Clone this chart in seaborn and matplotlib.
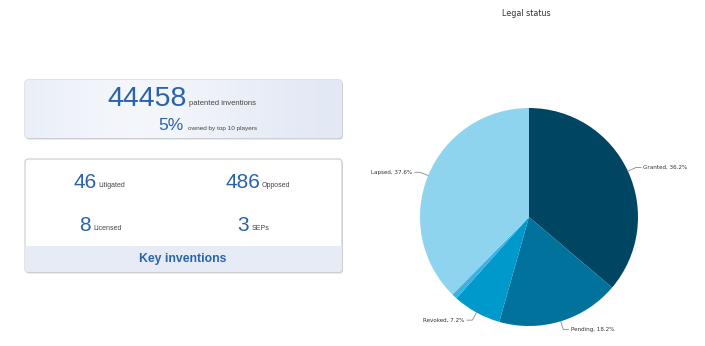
import numpy as np
import matplotlib
matplotlib.use("Agg")
import matplotlib.pyplot as plt
import seaborn as sns
from matplotlib.patches import FancyBboxPatch, Rectangle

sns.set_theme(style="white")
plt.rcParams['font.family'] = ['DejaVu Sans']

# ---- data ----
status = ["Granted", "Pending", "Revoked", "Other", "Lapsed"]
shares = [36.2, 18.2, 7.2, 0.8, 37.6]
colors = ["#004662", "#00729c", "#0099cc", "#3cb0e0", "#8fd4ef"]
show_label = [True, True, True, False, True]

total_inventions = "44458"
top10_share = "5%"
key_values = ["46", "486", "8", "3"]
key_names = ["Litigated", "Opposed", "Licensed", "SEPs"]

W, H = 705, 346
fig = plt.figure(figsize=(W / 100, H / 100), dpi=100)
fig.patch.set_facecolor("white")

# overlay axes in pixel coordinates for the cards
ov = fig.add_axes([0, 0, 1, 1])
ov.set_xlim(0, W)
ov.set_ylim(H, 0)
ov.axis("off")

blue = "#2b62ac"
grey_txt = "#444444"
cardfont = "Liberation Sans"

def card(x0, y0, x1, y1, fc):
    sh = FancyBboxPatch((x0 + 1, y0 + 1.5), x1 - x0, y1 - y0,
                        boxstyle="round,pad=0,rounding_size=3",
                        fc="#d2d4d8", ec="none", zorder=1)
    ov.add_patch(sh)
    b = FancyBboxPatch((x0, y0), x1 - x0, y1 - y0,
                       boxstyle="round,pad=0,rounding_size=3",
                       fc=fc, ec="#c9ccd2", lw=0.8, zorder=2)
    ov.add_patch(b)
    return b

# card 1 with soft gradient
b1 = card(25, 80, 342, 138, "#eaeef7")
grad = np.linspace(0, 1, 256)
g = np.exp(-((grad - 0.35) ** 2) / 0.15)
c0 = np.array([0.886, 0.910, 0.957])
c1 = np.array([0.955, 0.965, 0.985])
img = c0[None, None, :] * (1 - g[None, :, None]) + c1[None, None, :] * g[None, :, None]
im = ov.imshow(img, extent=(25, 342, 138, 80), aspect="auto", zorder=2.5)
im.set_clip_path(b1)

ov.text(107, 106, total_inventions, fontsize=20.5, color=blue, family=cardfont,
        ha="left", va="baseline", zorder=5)
ov.text(189, 105, "patented inventions", fontsize=5.5, color=grey_txt,
        family=cardfont, ha="left", va="baseline", zorder=5)
ov.text(158, 130, top10_share, fontsize=12.5, color=blue, family=cardfont,
        ha="left", va="baseline", zorder=5)
ov.text(188, 130, "owned by top 10 players", fontsize=4.6, color=grey_txt,
        family=cardfont, ha="left", va="baseline", zorder=5)

# card 2
b2 = card(25, 159, 342, 272, "white")
band = Rectangle((25, 246), 317, 26, fc="#e6ebf5", ec="none", zorder=3)
ov.add_patch(band)
band.set_clip_path(b2)
pos = [(73, 188), (226, 188), (79, 231), (237, 231)]
for (x, y), v, n in zip(pos, key_values, key_names):
    ov.text(x, y, v, fontsize=15, color=blue, family=cardfont,
            ha="left", va="baseline", zorder=5)
    ov.text(x + len(v) * 10.5 + 4, y - 1, n, fontsize=5, color=grey_txt,
            family=cardfont, ha="left", va="baseline", zorder=5)
ov.text(183, 259, "Key inventions", fontsize=8.8, color=blue, family=cardfont,
        weight="bold", ha="center", va="center", zorder=5)

# pie chart
cx, cy, r = 529, 217, 109
ax = fig.add_axes([(cx - r) / W, (H - cy - r) / H, 2 * r / W, 2 * r / H])
wedges, _ = ax.pie(shares, colors=colors, startangle=90, counterclock=False,
                   radius=1.0, wedgeprops=dict(linewidth=0))
ax.set_xlim(-1, 1)
ax.set_ylim(-1, 1)
ax.set_aspect("equal")
ax.axis("off")

for w, name, val, show in zip(wedges, status, shares, show_label):
    if not show:
        continue
    ang = np.deg2rad((w.theta1 + w.theta2) / 2)
    ca, sa = np.cos(ang), np.sin(ang)
    p0 = (ca * 1.0, sa * 1.0)
    p1 = (ca * 1.08, sa * 1.08)
    side = 1 if ca >= 0 else -1
    p2 = (p1[0] + side * 0.05, p1[1])
    ax.plot([p0[0], p1[0], p2[0]], [p0[1], p1[1], p2[1]], color="#888888",
            lw=0.6, clip_on=False)
    ax.text(p2[0] + side * 0.02, p2[1], f"{name}, {val}%", fontsize=4.1,
            color="#333333", ha="left" if side > 0 else "right", va="center",
            clip_on=False)

fig.text(526 / W, 1 - 14 / H, "Legal status", fontsize=5.8, color="#333333",
         ha="center", va="center")

fig.savefig("out.png", dpi=100, facecolor="white")
